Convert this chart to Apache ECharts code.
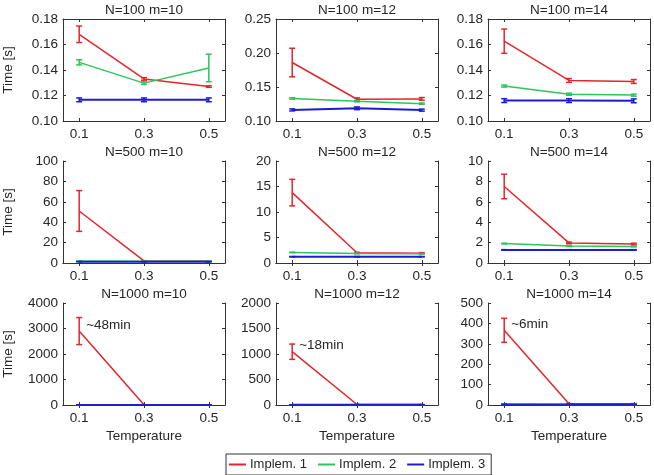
<!DOCTYPE html>
<html>
<head>
<meta charset="utf-8">
<script src="https://cdn.jsdelivr.net/npm/echarts@6/dist/echarts.min.js"></script>
<style>
  html, body { margin: 0; padding: 0; background: #fff; }
  #chart { width: 654px; height: 475px; }
</style>
</head>
<body>
<div id="chart"></div>
<script>
// temperatures on the x axis
var temps = [0.1, 0.3, 0.5];
var tickTemps = [0.1, 0.3, 0.5];

var panelTitles = ['N=100 m=10', 'N=100 m=12', 'N=100 m=14',
                   'N=500 m=10', 'N=500 m=12', 'N=500 m=14',
                   'N=1000 m=10', 'N=1000 m=12', 'N=1000 m=14'];

var yMin  = [0.10, 0.10, 0.10, 0, 0, 0, 0, 0, 0];
var yMax  = [0.18, 0.25, 0.18, 100, 20, 10, 4000, 2000, 500];
var yStep = [0.02, 0.05, 0.02, 20, 5, 2, 1000, 500, 100];
var yDecimals = [2, 2, 2, 0, 0, 0, 0, 0, 0];

// mean time per panel (rows of temps)
var impl1Mean = [
    [0.168, 0.133, 0.127], [0.186, 0.132, 0.1325], [0.1626, 0.1318, 0.131],
    [51, 2.0, 1.9], [13.8, 2.0, 1.93], [7.5, 1.97, 1.86],
    [2900, 10, 9], [1045, 9, 8], [366, 6, 6]
];
var impl1Err = [
    [0.0065, 0.001, 0.0006], [0.021, 0.002, 0.002], [0.0095, 0.0015, 0.0015],
    [20, 0.3, 0.2], [2.6, 0.1, 0.1], [1.2, 0.08, 0.08],
    [530, 2, 2], [150, 2, 2], [59, 1, 1]
];
var impl2Mean = [
    [0.146, 0.1297, 0.1416], [0.1332, 0.129, 0.1255], [0.1274, 0.121, 0.1203],
    [1.9, 1.8, 1.8], [2.07, 1.86, 1.8], [1.9, 1.66, 1.62],
    [6, 5, 5], [5, 4, 4], [4, 3, 3]
];
var impl2Err = [
    [0.002, 0.001, 0.0108], [0.001, 0.001, 0.001], [0.0008, 0.0008, 0.0008],
    [0.1, 0.1, 0.1], [0.05, 0.05, 0.05], [0.04, 0.04, 0.04],
    [1, 1, 1], [1, 1, 1], [0.5, 0.5, 0.5]
];
var impl3Mean = [
    [0.1166, 0.1166, 0.1166], [0.1163, 0.1187, 0.116], [0.116, 0.116, 0.1158],
    [1.3, 1.3, 1.3], [1.24, 1.24, 1.24], [1.28, 1.28, 1.28],
    [3, 3, 3], [3, 3, 3], [3, 3, 3]
];
var impl3Err = [
    [0.0015, 0.0015, 0.0015], [0.0015, 0.002, 0.0015], [0.0015, 0.0015, 0.0015],
    [0.05, 0.05, 0.05], [0.03, 0.03, 0.03], [0.03, 0.03, 0.03],
    [0.5, 0.5, 0.5], [0.5, 0.5, 0.5], [0.3, 0.3, 0.3]
];
var notes = [null, null, null, null, null, null, '~48min', '~18min', '~6min'];

var implNames = ['Implem. 1', 'Implem. 2', 'Implem. 3'];
var implColors = ['#e3262b', '#2cc55c', '#1c1cd2'];
var implWidths = [1.5, 1.5, 2];

var textColor = '#262626';
var fontFamily = 'Liberation Sans, Arial, sans-serif';

var colLeft = [63, 276, 488];
var rowTop = [19, 161, 303];
var boxW = 162, boxH = 102;

var myChart = echarts.init(document.getElementById('chart'), null, { renderer: 'canvas' });

function errRender(params, api) {
    var x = api.value(0);
    var p = api.coord([x, api.value(1)]);
    var lo = api.coord([x, api.value(2)]);
    var hi = api.coord([x, api.value(3)]);
    var st = { stroke: api.visual('color'), lineWidth: 1.5 };
    return {
        type: 'group',
        children: [
            { type: 'line', shape: { x1: p[0], y1: lo[1], x2: p[0], y2: hi[1] }, style: st },
            { type: 'line', shape: { x1: p[0] - 3, y1: lo[1], x2: p[0] + 3, y2: lo[1] }, style: st },
            { type: 'line', shape: { x1: p[0] - 3, y1: hi[1], x2: p[0] + 3, y2: hi[1] }, style: st }
        ]
    };
}

var grids = [], xAxes = [], yAxes = [], titleTexts = [], series = [];
var means = [impl1Mean, impl2Mean, impl3Mean];
var errs = [impl1Err, impl2Err, impl3Err];

for (var i = 0; i < 9; i++) {
    var r = Math.floor(i / 3), c = i % 3;
    grids.push({ left: colLeft[c], top: rowTop[r], width: boxW, height: boxH });
    titleTexts.push({
        type: 'text',
        x: colLeft[c] + boxW / 2,
        y: rowTop[r] - 9,
        style: {
            text: panelTitles[i], align: 'center', verticalAlign: 'middle',
            fontSize: 13.5, fill: textColor, fontFamily: fontFamily
        }
    });

    var axisLine = { show: true, lineStyle: { color: '#333', width: 1 } };
    var tick = { show: true, inside: true, length: 3, lineStyle: { color: '#333' } };
    var dec = yDecimals[i];

    xAxes.push({
        type: 'value', gridIndex: i, position: 'bottom', min: 0.05, max: 0.55,
        axisLine: axisLine,
        axisTick: Object.assign({ customValues: tickTemps }, tick),
        axisLabel: { customValues: tickTemps, margin: 6, fontSize: 13.5, color: textColor, fontFamily: fontFamily,
                     formatter: function (v) { return v.toFixed(1); } },
        splitLine: { show: false },
        name: r === 2 ? 'Temperature' : '',
        nameLocation: 'middle', nameGap: 24,
        nameTextStyle: { fontSize: 13.5, color: textColor, fontFamily: fontFamily }
    });
    xAxes.push({
        type: 'value', gridIndex: i, position: 'top', min: 0.05, max: 0.55,
        axisLine: axisLine,
        axisTick: Object.assign({ customValues: tickTemps }, tick),
        axisLabel: { show: false }, splitLine: { show: false }
    });
    yAxes.push({
        type: 'value', gridIndex: i, position: 'left',
        min: yMin[i], max: yMax[i], interval: yStep[i],
        axisLine: axisLine, axisTick: tick,
        axisLabel: { margin: 5, fontSize: 13.5, color: textColor, fontFamily: fontFamily,
                     formatter: (function (d) { return function (v) { return v.toFixed(d); }; })(dec) },
        splitLine: { show: false },
        name: c === 0 ? 'Time [s]' : '',
        nameLocation: 'middle', nameGap: 48,
        nameTextStyle: { fontSize: 13.5, color: textColor, fontFamily: fontFamily }
    });
    yAxes.push({
        type: 'value', gridIndex: i, position: 'right',
        min: yMin[i], max: yMax[i], interval: yStep[i],
        axisLine: axisLine, axisTick: tick,
        axisLabel: { show: false }, splitLine: { show: false }
    });

    for (var k = 0; k < 3; k++) {
        var lineData = [], errData = [];
        for (var t = 0; t < temps.length; t++) {
            var m = means[k][i][t], e = errs[k][i][t];
            var item = { value: [temps[t], m] };
            if (k === 0 && t === 0 && notes[i]) {
                item.symbol = 'circle';
                item.symbolSize = 0;
                item.label = {
                    show: true, formatter: notes[i], position: 'right', distance: 7, offset: [0, -6],
                    fontSize: 13.5, color: textColor, fontFamily: fontFamily
                };
            }
            lineData.push(item);
            errData.push([temps[t], m, m - e, m + e]);
        }
        series.push({
            name: implNames[k], type: 'line',
            xAxisIndex: 2 * i, yAxisIndex: 2 * i,
            data: lineData, showSymbol: true, symbol: 'none',
            color: implColors[k],
            lineStyle: { width: implWidths[k], color: implColors[k] },
            z: 2 + k, silent: true, animation: false
        });
        series.push({
            name: implNames[k], type: 'custom',
            xAxisIndex: 2 * i, yAxisIndex: 2 * i,
            data: errData, renderItem: errRender,
            itemStyle: { color: implColors[k] },
            encode: { x: 0, y: 1 },
            z: 2 + k, silent: true, animation: false
        });
    }
}

var opt = {
    backgroundColor: '#fff',
    animation: false,
    graphic: titleTexts,
    grid: grids,
    xAxis: xAxes,
    yAxis: yAxes,
    legend: {
        data: implNames.map(function (n, idx) {
            return { name: n, itemStyle: { color: implColors[idx] } };
        }),
        left: 226, top: 454,
        icon: 'rect', itemWidth: 17, itemHeight: 2, itemGap: 11,
        borderColor: '#333', borderWidth: 1, borderRadius: 0,
        padding: [4, 6, 4, 3],
        selectedMode: false,
        textStyle: { fontSize: 13, color: textColor, fontFamily: fontFamily, padding: [0, 0, 0, -1] }
    },
    series: series
};

myChart.setOption(opt);
</script>
</body>
</html>
